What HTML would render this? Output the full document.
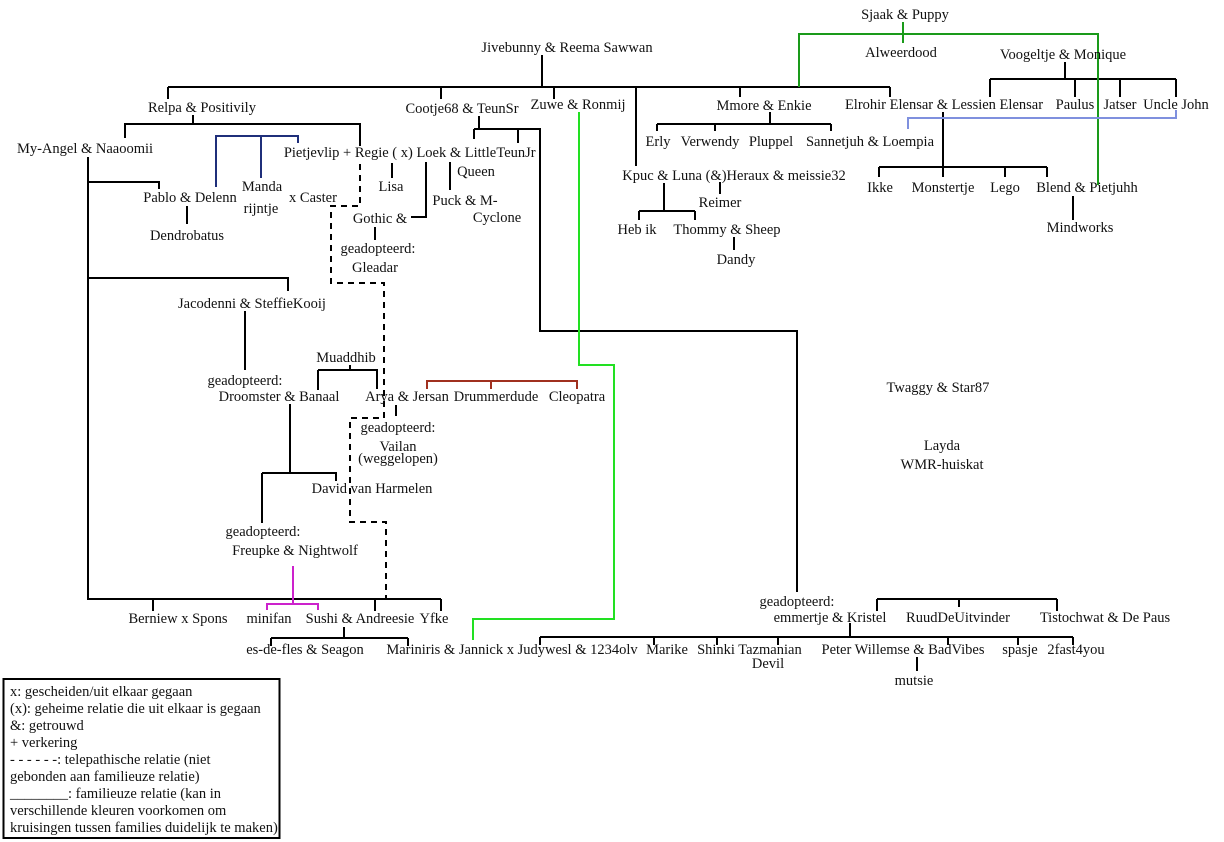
<!DOCTYPE html>
<html><head><meta charset="utf-8"><style>
html,body{margin:0;padding:0;background:#fff;}
svg{display:block;}
text{font-family:"Liberation Serif",serif;font-size:14.5px;fill:#111;}
.l{text-anchor:start;}
</style></head><body>
<svg width="1224" height="842" viewBox="0 0 1224 842" xmlns="http://www.w3.org/2000/svg">
<g fill="none" stroke="#000" stroke-width="2">
<path d="M542 55V87M168 87H890M168 87V99M441 87V99M554 87V99M636 87V166M740 87V97M890 87V97"/>
<path d="M193 115V124M125 138V124H360V146"/>
<path d="M88 157V599H441M88 182H159V189M88 278H288V291"/>
<path d="M187 206V224"/>
<path d="M392 163V178M426 162V217H411M375 227V240M450 162V190"/>
<path d="M479 116V129M474 129H540V331H797V592M474 129V139M518 129V143"/>
<path d="M245 311V370M350 365V370M318 370H377V389M318 370V390"/>
<path d="M396 405V416"/>
<path d="M290 404V473M262 473H336V481M262 473V523"/>
<path d="M153 599V611M375 599V611M441 599V611"/>
<path d="M344 627V638M271 638H408M271 638V646M408 638V646"/>
<path d="M540 637H1073M540 637V645M654 637V645M717 637V645M778 637V645M850 623V637M948 637V645M1018 637V645M1073 637V645"/>
<path d="M917 657V671"/>
<path d="M877 599H1057M877 599V611M959 599V607M1057 599V611"/>
<path d="M770 112V124M657 124H831M657 124V131M715 124V131M831 124V131"/>
<path d="M664 183V211M639 211H695M639 211V220M695 211V220M734 237V250M720 182V194"/>
<path d="M1065 62V79M990 79H1176M990 79V97M1075 79V97M1120 79V97M1176 79V97"/>
<path d="M943 112V167M879 167H1047M879 167V177M943 167V177M1005 167V177M1047 167V177M1073 196V220"/>
</g>
<path d="M216 187V136H298V143M261 136V178" fill="none" stroke="#1f2f7a" stroke-width="2"/>
<path d="M427 389V381H577V389M491 381V389" fill="none" stroke="#a0301f" stroke-width="2"/>
<path d="M293 566V604M267 610V604H318V610" fill="none" stroke="#cc22cc" stroke-width="2"/>
<path d="M903 22V43M799 87V34H1098V185" fill="none" stroke="#1a9a1a" stroke-width="2"/>
<path d="M1176 110V118H908V129" fill="none" stroke="#7f90de" stroke-width="2"/>
<path d="M579 112V365H614V619H473V640" fill="none" stroke="#22e022" stroke-width="2"/>
<path d="M360 164V206H331V283H384V418H350V522H386V599" fill="none" stroke="#000" stroke-width="2" stroke-dasharray="6,5"/>
<g text-anchor="middle">
<text x="905" y="19">Sjaak &amp; Puppy</text>
<text x="901" y="57">Alweerdood</text>
<text x="1063" y="59">Voogeltje &amp; Monique</text>
<text x="567" y="52">Jivebunny &amp; Reema Sawwan</text>
<text x="202" y="112">Relpa &amp; Positivily</text>
<text x="462" y="113">Cootje68 &amp; TeunSr</text>
<text x="578" y="109">Zuwe &amp; Ronmij</text>
<text x="764" y="110">Mmore &amp; Enkie</text>
<text x="944" y="109">Elrohir Elensar &amp; Lessien Elensar</text>
<text x="1075" y="109">Paulus</text>
<text x="1120" y="109">Jatser</text>
<text x="1176" y="109">Uncle John</text>
<text x="85" y="153">My-Angel &amp; Naaoomii</text>
<text x="658" y="146">Erly</text>
<text x="710" y="146">Verwendy</text>
<text x="771" y="146">Pluppel</text>
<text x="870" y="146">Sannetjuh &amp; Loempia</text>
<text x="734" y="180">Kpuc &amp; Luna (&amp;)Heraux &amp; meissie32</text>
<text x="720" y="207">Reimer</text>
<text x="637" y="234">Heb ik</text>
<text x="727" y="234">Thommy &amp; Sheep</text>
<text x="736" y="264">Dandy</text>
<text x="880" y="192">Ikke</text>
<text x="943" y="192">Monstertje</text>
<text x="1005" y="192">Lego</text>
<text x="1087" y="192">Blend &amp; Pietjuhh</text>
<text x="1080" y="232">Mindworks</text>
<text x="390" y="157">Pietjevlip + Regie ( x) Loek &amp; Little</text>
<text x="516" y="157">TeunJr</text>
<text x="476" y="176">Queen</text>
<text x="391" y="191">Lisa</text>
<text x="190" y="202">Pablo &amp; Delenn</text>
<text x="262" y="191">Manda</text>
<text x="261" y="213">rijntje</text>
<text x="313" y="202">x Caster</text>
<text x="465" y="205">Puck &amp; M-</text>
<text x="497" y="222">Cyclone</text>
<text x="380" y="223">Gothic &amp;</text>
<text x="187" y="240">Dendrobatus</text>
<text x="378" y="253">geadopteerd:</text>
<text x="375" y="272">Gleadar</text>
<text x="252" y="308">Jacodenni &amp; SteffieKooij</text>
<text x="346" y="362">Muaddhib</text>
<text x="245" y="385">geadopteerd:</text>
<text x="279" y="401">Droomster &amp; Banaal</text>
<text x="407" y="401">Arya &amp; Jersan</text>
<text x="496" y="401">Drummerdude</text>
<text x="577" y="401">Cleopatra</text>
<text x="398" y="432">geadopteerd:</text>
<text x="398" y="451">Vailan</text>
<text x="398" y="463">(weggelopen)</text>
<text x="372" y="493">David van Harmelen</text>
<text x="263" y="536">geadopteerd:</text>
<text x="295" y="555">Freupke &amp; Nightwolf</text>
<text x="178" y="623">Berniew x Spons</text>
<text x="269" y="623">minifan</text>
<text x="360" y="623">Sushi &amp; Andreesie</text>
<text x="434" y="623">Yfke</text>
<text x="305" y="654">es-de-fles &amp; Seagon</text>
<text x="512" y="654">Mariniris &amp; Jannick x Judywesl &amp; 1234olv</text>
<text x="938" y="392">Twaggy &amp; Star87</text>
<text x="942" y="450">Layda</text>
<text x="942" y="469">WMR-huiskat</text>
<text x="797" y="606">geadopteerd:</text>
<text x="830" y="622">emmertje &amp; Kristel</text>
<text x="958" y="622">RuudDeUitvinder</text>
<text x="1105" y="622">Tistochwat &amp; De Paus</text>
<text x="667" y="654">Marike</text>
<text x="716" y="654">Shinki</text>
<text x="770" y="654">Tazmanian</text>
<text x="768" y="668">Devil</text>
<text x="903" y="654">Peter Willemse &amp; BadVibes</text>
<text x="1020" y="654">spasje</text>
<text x="1076" y="654">2fast4you</text>
<text x="914" y="685">mutsie</text>
</g>
<rect x="3.5" y="679" width="276" height="159" fill="#fff" stroke="#000" stroke-width="2"/>
<g class="l" style="font-size:13.5px">
<text class="l" x="10" y="696">x: gescheiden/uit elkaar gegaan</text>
<text class="l" x="10" y="713">(x): geheime relatie die uit elkaar is gegaan</text>
<text class="l" x="10" y="730">&amp;: getrouwd</text>
<text class="l" x="10" y="747">+ verkering</text>
<text class="l" x="10" y="764"> - - - - - -: telepathische relatie (niet</text>
<text class="l" x="10" y="781">gebonden aan familieuze relatie)</text>
<text class="l" x="10" y="798">________: familieuze relatie (kan in</text>
<text class="l" x="10" y="815">verschillende kleuren voorkomen om</text>
<text class="l" x="10" y="832">kruisingen tussen families duidelijk te maken)</text>
</g>
</svg>
</body></html>
